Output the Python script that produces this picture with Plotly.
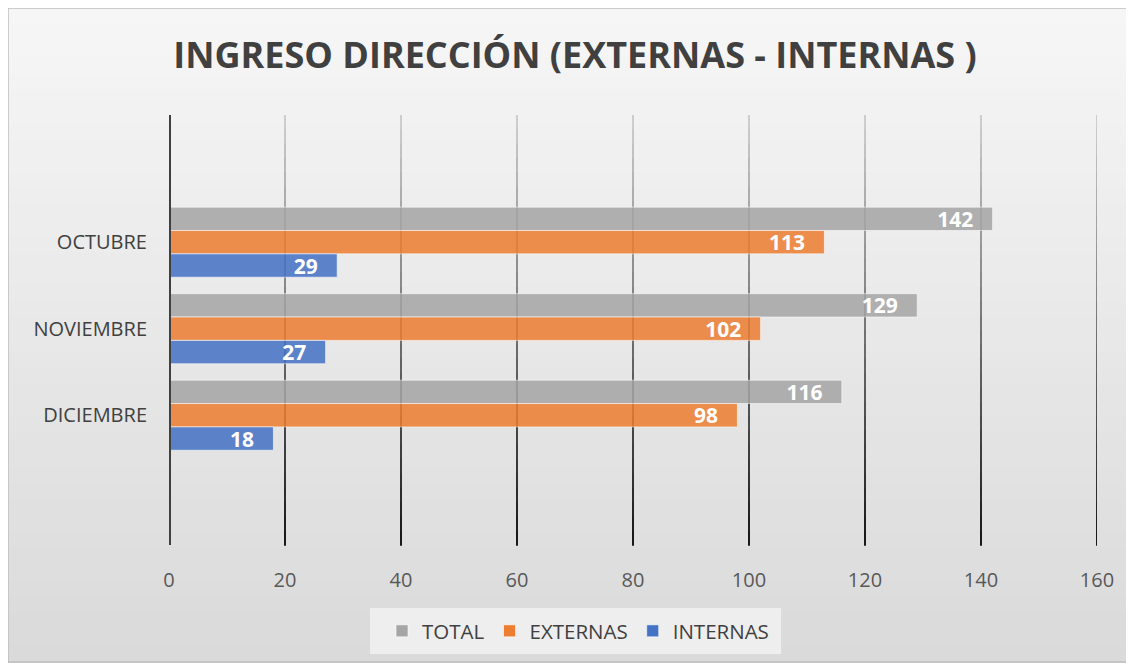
import plotly.graph_objects as go

months = ["OCTUBRE", "NOVIEMBRE", "DICIEMBRE"]
total = [142, 129, 116]
externas = [113, 102, 98]
internas = [29, 27, 18]
x_ticks = [0, 20, 40, 60, 80, 100, 120, 140, 160]

# the page body has an 8px margin, so reference pixels are shifted by 8
OFF = 8
W, H = 1134 - OFF, 670 - OFF
L, T = 169 - OFF, 115 - OFF
R, B = W - (1097 - OFF), H - (545 - OFF)
pw, ph = W - L - R, H - T - B


def px_x(p):
    return (p - OFF - L) / pw


def px_y(p):
    return (H - B - (p - OFF)) / ph


def mix(c1, c2, t):
    return "rgb(%d,%d,%d)" % tuple(round(a + (b - a) * t) for a, b in zip(c1, c2))


series = [
    ("TOTAL", total, "#a5a5a5"),
    ("EXTERNAS", externas, "#ed7d31"),
    ("INTERNAS", internas, "#4472c4"),
]

fig = go.Figure()
for name, vals, color in series:
    fig.add_trace(
        go.Bar(
            name=name,
            y=months,
            x=vals,
            orientation="h",
            marker=dict(color=color, opacity=0.85, line=dict(color="rgba(255,255,255,0.6)", width=1)),
            text=vals,
            texttemplate="%{x}\u00a0\u00a0\u00a0",
            textposition="inside",
            insidetextanchor="end",
            constraintext="none",
            textfont=dict(color="white", size=21, family="Open Sans", weight="bold"),
            cliponaxis=False,
        )
    )

shapes = []
# background with a soft vertical gradient
x0, x1 = px_x(8), px_x(1127)
n = 40
top, bot = 8, 662
for i in range(n):
    ya = top + (bot - top) * i / n
    yb = top + (bot - top) * (i + 1) / n + 1
    shapes.append(dict(type="rect", xref="paper", yref="paper", x0=x0, x1=x1,
                       y0=px_y(yb), y1=px_y(ya), line=dict(width=0),
                       fillcolor=mix((246, 246, 246), (218, 218, 218), i / (n - 1)), layer="below"))
shapes.append(dict(type="rect", xref="paper", yref="paper", x0=x0, x1=x1,
                   y0=px_y(bot), y1=px_y(top), line=dict(color="#bfbfbf", width=1.5),
                   fillcolor="rgba(0,0,0,0)", layer="below"))
# legend box
shapes.append(dict(type="rect", xref="paper", yref="paper", x0=px_x(370), x1=px_x(781),
                   y0=px_y(654), y1=px_y(608), line=dict(width=0),
                   fillcolor="rgba(240,240,240,0.9)", layer="below"))
# gridlines with gradient
m = 30
for xv in x_ticks[1:]:
    for i in range(m):
        shapes.append(dict(type="line", xref="x", yref="paper", x0=xv, x1=xv,
                           y0=1 - i / m, y1=1 - (i + 1) / m - 0.002,
                           line=dict(color=mix((205, 205, 205), (25, 25, 25), i / (m - 1)), width=2),
                           layer="below"))
shapes.append(dict(type="line", xref="x", yref="paper", x0=0, x1=0, y0=0, y1=1,
                   line=dict(color="#404040", width=4), layer="above"))

fig.update_layout(
    width=W,
    height=H,
    margin=dict(l=L, r=R, t=T, b=B),
    paper_bgcolor="white",
    plot_bgcolor="rgba(0,0,0,0)",
    font=dict(family="Open Sans", color="#595959", size=20),
    title=dict(text="<b>INGRESO DIRECCIÓN (EXTERNAS - INTERNAS )</b>",
               x=px_x(575) * pw / W + L / W, xanchor="center", y=1 - (55 - OFF) / H, yanchor="middle",
               font=dict(size=36, color="#404040", family="Open Sans")),
    barmode="group",
    bargap=0.19,
    bargroupgap=0,
    shapes=shapes,
    showlegend=True,
    legend=dict(orientation="h", x=px_x(578), xanchor="center", y=px_y(631), yanchor="middle",
                font=dict(size=20.5, color="#404040"), bgcolor="rgba(0,0,0,0)",
                traceorder="normal", itemwidth=30),
)
fig.update_xaxes(range=[0, 160], tickvals=x_ticks, showgrid=False, zeroline=False,
                 ticks="outside", ticklen=17, tickcolor="rgba(0,0,0,0)",
                 tickfont=dict(size=20, color="#595959"))
fig.update_yaxes(range=[3.50, -1.47], showgrid=False, zeroline=False,
                 ticks="outside", ticklen=17, tickcolor="rgba(0,0,0,0)",
                 tickfont=dict(size=20, color="#404040"))

fig.write_html("out.html")
